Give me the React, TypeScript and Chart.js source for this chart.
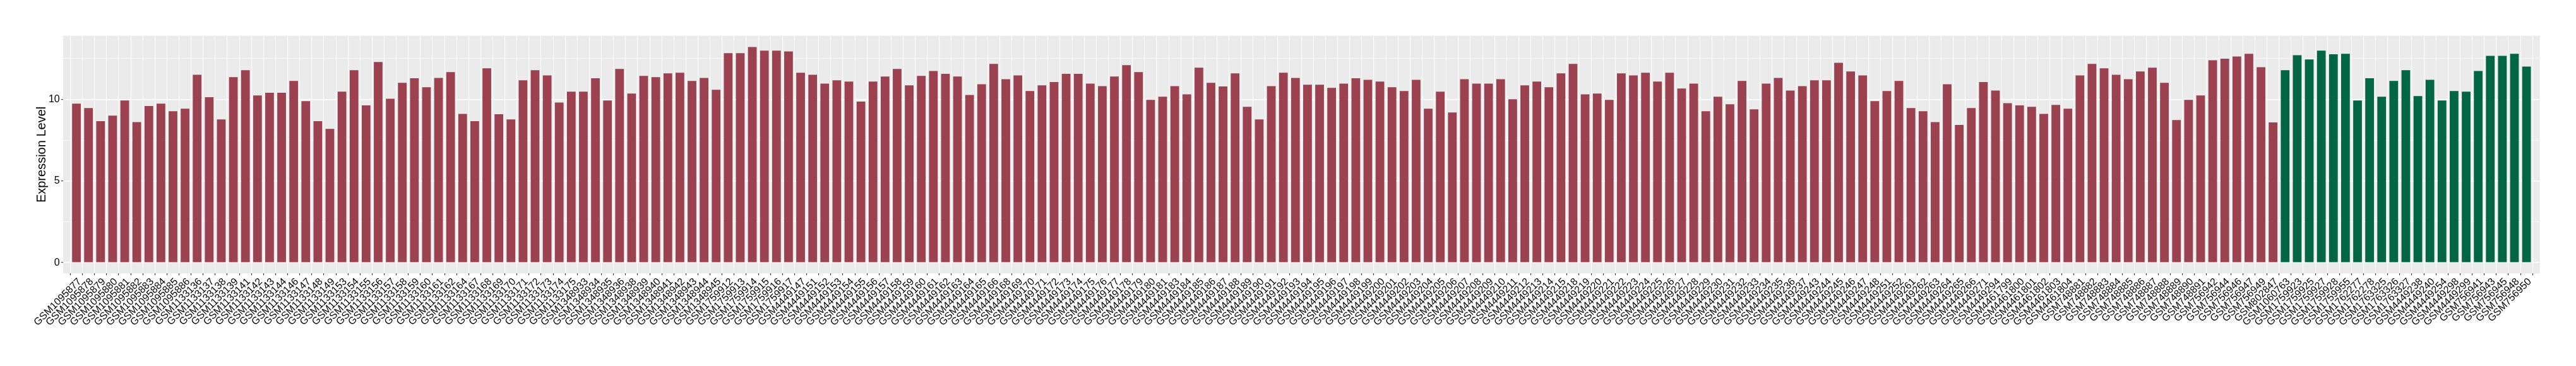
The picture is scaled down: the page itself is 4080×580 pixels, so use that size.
import React, { useEffect, useRef } from "react";
import { Chart, registerables } from "chart.js";

Chart.register(...registerables);

const redSamples = [
  "GSM1095877", "GSM1095878", "GSM1095879", "GSM1095880", "GSM1095881", "GSM1095882", "GSM1095883", "GSM1095884", "GSM1095885", "GSM1095886",
  "GSM1133136", "GSM1133137", "GSM1133138", "GSM1133139", "GSM1133141", "GSM1133142", "GSM1133143", "GSM1133144", "GSM1133146", "GSM1133147",
  "GSM1133148", "GSM1133149", "GSM1133153", "GSM1133154", "GSM1133155", "GSM1133156", "GSM1133157", "GSM1133158", "GSM1133159", "GSM1133160",
  "GSM1133161", "GSM1133162", "GSM1133164", "GSM1133167", "GSM1133168", "GSM1133169", "GSM1133170", "GSM1133171", "GSM1133172", "GSM1133173",
  "GSM1133174", "GSM1133175", "GSM1348933", "GSM1348934", "GSM1348935", "GSM1348936", "GSM1348938", "GSM1348939", "GSM1348940", "GSM1348941",
  "GSM1348942", "GSM1348943", "GSM1348944", "GSM1348945", "GSM1759912", "GSM1759913", "GSM1759914", "GSM1759915", "GSM1759916", "GSM1759917",
  "GSM4449147", "GSM4449151", "GSM4449152", "GSM4449153", "GSM4449154", "GSM4449155", "GSM4449156", "GSM4449157", "GSM4449158", "GSM4449159",
  "GSM4449160", "GSM4449161", "GSM4449162", "GSM4449163", "GSM4449164", "GSM4449165", "GSM4449166", "GSM4449168", "GSM4449169", "GSM4449170",
  "GSM4449171", "GSM4449172", "GSM4449173", "GSM4449174", "GSM4449175", "GSM4449176", "GSM4449177", "GSM4449178", "GSM4449179", "GSM4449180",
  "GSM4449181", "GSM4449183", "GSM4449184", "GSM4449185", "GSM4449186", "GSM4449187", "GSM4449188", "GSM4449189", "GSM4449190", "GSM4449191",
  "GSM4449192", "GSM4449193", "GSM4449194", "GSM4449195", "GSM4449196", "GSM4449197", "GSM4449198", "GSM4449199", "GSM4449200", "GSM4449201",
  "GSM4449202", "GSM4449203", "GSM4449204", "GSM4449205", "GSM4449206", "GSM4449207", "GSM4449208", "GSM4449209", "GSM4449210", "GSM4449211",
  "GSM4449212", "GSM4449213", "GSM4449214", "GSM4449215", "GSM4449218", "GSM4449219", "GSM4449220", "GSM4449221", "GSM4449222", "GSM4449223",
  "GSM4449224", "GSM4449225", "GSM4449226", "GSM4449227", "GSM4449228", "GSM4449229", "GSM4449230", "GSM4449231", "GSM4449232", "GSM4449233",
  "GSM4449234", "GSM4449235", "GSM4449236", "GSM4449237", "GSM4449243", "GSM4449244", "GSM4449245", "GSM4449246", "GSM4449247", "GSM4449248",
  "GSM4449251", "GSM4449252", "GSM4449261", "GSM4449262", "GSM4449263", "GSM4449264", "GSM4449265", "GSM4449266", "GSM4449271", "GSM4449294",
  "GSM4461799", "GSM4461800", "GSM4461801", "GSM4461802", "GSM4461803", "GSM4461804", "GSM748881", "GSM748882", "GSM748883", "GSM748884",
  "GSM748885", "GSM748886", "GSM748887", "GSM748888", "GSM748889", "GSM748890", "GSM748891", "GSM756942", "GSM756944", "GSM756946",
  "GSM756947", "GSM756949", "GSM802847",
];

const redValues = [
  9.74, 9.47, 8.66, 9.0, 9.93, 8.61, 9.59, 9.74, 9.27, 9.43,
  11.51, 10.13, 8.77, 11.36, 11.79, 10.24, 10.4, 10.4, 11.13, 9.89,
  8.66, 8.19, 10.47, 11.79, 9.63, 12.29, 10.04, 11.01, 11.29, 10.74,
  11.31, 11.67, 9.11, 8.66, 11.9, 9.09, 8.77, 11.17, 11.79, 11.47,
  9.81, 10.47, 10.47, 11.29, 9.93, 11.86, 10.36, 11.44, 11.36, 11.59,
  11.63, 11.13, 11.31, 10.59, 12.83, 12.83, 13.21, 12.99, 12.99, 12.94,
  11.63, 11.51, 10.97, 11.17, 11.09, 9.86, 11.09, 11.4, 11.86, 10.86,
  11.44, 11.74, 11.56, 11.4, 10.27, 10.93, 12.17, 11.24, 11.47, 10.51,
  10.86, 11.06, 11.56, 11.56, 10.97, 10.81, 11.4, 12.1, 11.67, 9.97,
  10.16, 10.81, 10.31, 11.94, 11.01, 10.79, 11.59, 9.54, 8.77, 10.81,
  11.63, 11.31, 10.9, 10.9, 10.7, 10.97, 11.29, 11.2, 11.09, 10.74,
  10.51, 11.2, 9.43, 10.47, 9.2, 11.24, 10.97, 10.97, 11.24, 10.01,
  10.86, 11.09, 10.74, 11.59, 12.17, 10.31, 10.36, 9.97, 11.59, 11.47,
  11.63, 11.09, 11.63, 10.67, 10.97, 9.27, 10.16, 9.7, 11.13, 9.39,
  10.97, 11.31, 10.54, 10.81, 11.17, 11.17, 12.24, 11.71, 11.47, 9.89,
  10.51, 11.13, 9.47, 9.27, 8.61, 10.93, 8.43, 9.47, 11.06, 10.54,
  9.77, 9.63, 9.54, 9.11, 9.66, 9.43, 11.47, 12.17, 11.9, 11.51,
  11.24, 11.71, 11.94, 11.01, 8.73, 9.97, 10.24, 12.4, 12.49, 12.63,
  12.79, 11.97, 8.59,
];

const greenSamples = [
  "GSM1060763", "GSM1759923", "GSM1759925", "GSM1759927", "GSM1759928", "GSM1759955", "GSM1762277", "GSM1762278", "GSM1763325", "GSM1763326",
  "GSM1763327", "GSM4449238", "GSM4449240", "GSM4449254", "GSM4449298", "GSM4449299", "GSM756941", "GSM756943", "GSM756945", "GSM756948",
  "GSM756950",
];

const greenValues = [
  11.79, 12.71, 12.44, 12.99, 12.76, 12.79, 9.93, 11.29, 10.16, 11.13,
  11.79, 10.2, 11.2, 9.93, 10.51, 10.47, 11.74, 12.67, 12.67, 12.79,
  12.01,
];

const yTickValues = [0, 2.5, 5, 7.5, 10, 12.5];
const yAxisTitle = "Expression Level";

const RED = "#9B4150";
const GREEN = "#006644";
const FONT = "'Liberation Sans', Arial, Helvetica, sans-serif";

const panelBackground = {
  id: "panelBackground",
  beforeDraw(chart: any) {
    const { ctx, chartArea } = chart;
    if (!chartArea) return;
    ctx.save();
    ctx.fillStyle = "#EBEBEB";
    ctx.fillRect(chartArea.left, chartArea.top, chartArea.right - chartArea.left, chartArea.bottom - chartArea.top);
    ctx.restore();
  },
};

export default function App() {
  const canvasRef = useRef<HTMLCanvasElement | null>(null);

  useEffect(() => {
    const canvas = canvasRef.current;
    if (!canvas) return;
    const labels = [...redSamples, ...greenSamples];
    const values = [...redValues, ...greenValues];
    const colors = [...redSamples.map(() => RED), ...greenSamples.map(() => GREEN)];
    const data = values.map((v, i) => ({ x: i, y: v }));
    const n = labels.length;

    const chart = new Chart(canvas, {
      type: "bar",
      data: {
        datasets: [
          {
            data,
            backgroundColor: colors,
            borderWidth: 0,
            barPercentage: 0.72,
            categoryPercentage: 1,
          },
        ],
      },
      plugins: [panelBackground],
      options: {
        responsive: false,
        animation: false,
        devicePixelRatio: 1,
        layout: { padding: { left: 0, top: 56.6, right: 57.3, bottom: 0 } },
        plugins: { legend: { display: false }, tooltip: { enabled: false } },
        scales: {
          x: {
            type: "linear",
            bounds: "data",
            min: -0.6,
            max: n - 1 + 0.6,
            afterBuildTicks: (scale: any) => {
              scale.ticks = labels.map((_, i) => ({ value: i }));
            },
            afterFit: (scale: any) => {
              scale.height = 146.7;
            },
            border: { display: false },
            grid: {
              color: "#FFFFFF",
              lineWidth: 1.1,
              drawTicks: true,
              tickLength: 3,
              tickColor: "#333333",
              tickWidth: 1.1,
            },
            ticks: {
              autoSkip: false,
              minRotation: 45,
              maxRotation: 45,
              padding: 0.7,
              labelOffset: 5.3,
              color: "#000000",
              font: { family: FONT, size: 16 },
              callback: (value: any) => labels[Math.round(Number(value))] ?? "",
            },
          },
          y: {
            type: "linear",
            bounds: "data",
            min: -0.665,
            max: 13.9,
            afterBuildTicks: (scale: any) => {
              scale.ticks = yTickValues.map((v) => ({ value: v }));
            },
            afterFit: (scale: any) => {
              scale.width = 100;
            },
            border: { display: false },
            grid: {
              color: "#FFFFFF",
              lineWidth: (ctx: any) => (ctx.tick && ctx.tick.value % 5 === 0 ? 1.4 : 0.7),
              drawTicks: true,
              tickLength: 3.3,
              tickColor: (ctx: any) => (ctx.tick && ctx.tick.value % 5 === 0 ? "#333333" : "rgba(0,0,0,0)"),
              tickWidth: 1.1,
            },
            ticks: {
              padding: 2,
              color: "#000000",
              font: { family: FONT, size: 16 },
              callback: (value: any) => (Number(value) % 5 === 0 ? String(value) : ""),
            },
            title: {
              display: true,
              text: yAxisTitle,
              color: "#000000",
              font: { family: FONT, size: 20 },
              padding: { top: 54, bottom: 0 },
            },
          },
        },
      },
    } as any);

    return () => chart.destroy();
  }, []);

  return (
    <div style={{ position: "fixed", left: 0, top: 0, width: 4080, height: 580, background: "#FFFFFF" }}>
      <canvas ref={canvasRef} width={4080} height={580} style={{ width: 4080, height: 580, display: "block" }} />
    </div>
  );
}
